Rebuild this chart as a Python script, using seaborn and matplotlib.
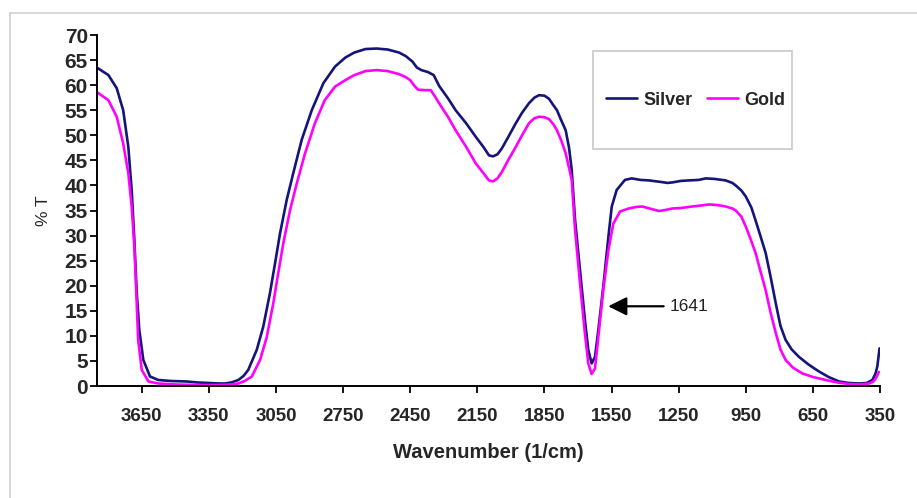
import matplotlib
matplotlib.use("Agg")
import matplotlib.pyplot as plt
from matplotlib import font_manager
from matplotlib.patches import Rectangle
import seaborn as sns
import pandas as pd

# ---- data ----
silver_wn = [3847, 3799, 3762, 3733, 3710, 3695, 3683, 3673, 3661, 3643, 3613, 3576, 3520, 3450,
             3400, 3350, 3300, 3278, 3250, 3218, 3195, 3174, 3136, 3107, 3077, 3054, 3032, 3002,
             2973, 2935, 2890, 2838, 2786, 2740, 2700, 2650, 2600, 2550, 2500, 2470, 2440, 2420,
             2400, 2370, 2345, 2320, 2280, 2247, 2200, 2157, 2120, 2098, 2080, 2060, 2040, 2010,
             1978, 1950, 1919, 1895, 1874, 1850, 1830, 1810, 1794, 1775, 1755, 1740, 1728, 1713,
             1691, 1669, 1654, 1639, 1624, 1609, 1587, 1564, 1549, 1527, 1490, 1460, 1420, 1383,
             1330, 1300, 1278, 1240, 1204, 1160, 1129, 1090, 1040, 1010, 995, 970, 950, 925, 906,
             885, 861, 840, 816, 795, 772, 745, 712, 670, 623, 580, 533, 490, 444, 410, 384, 370,
             362, 352]
silver_t = [63.4, 62.0, 59.4, 55.0, 47.7, 39.1, 29.1, 19.1, 11.2, 5.2, 1.9, 1.2, 1.0, 0.9,
            0.7, 0.6, 0.5, 0.5, 0.7, 1.2, 2.0, 3.2, 7.2, 11.8, 18.5, 24.5, 30.4, 37.1,
            42.4, 49.1, 55.0, 60.4, 63.7, 65.5, 66.5, 67.2, 67.3, 67.1, 66.5, 65.8, 64.7, 63.5,
            63.0, 62.6, 62.0, 59.8, 57.3, 55.0, 52.4, 49.7, 47.5, 46.0, 45.8, 46.2, 47.4, 49.8,
            52.4, 54.5, 56.4, 57.5, 58.0, 57.9, 57.3, 56.0, 55.0, 53.0, 51.0, 47.5, 43.1, 33.1,
            23.1, 13.2, 7.2, 4.5, 5.8, 11.2, 19.8, 29.8, 35.8, 39.1, 41.1, 41.4, 41.1, 41.0,
            40.7, 40.5, 40.6, 40.9, 41.0, 41.1, 41.4, 41.3, 41.0, 40.5, 40.0, 39.0, 37.8, 35.6, 33.0,
            30.0, 26.5, 22.0, 16.5, 12.0, 9.2, 7.3, 5.8, 4.3, 2.9, 1.8, 0.9, 0.6, 0.5, 0.6, 1.2, 2.5,
            3.9, 7.5]

gold_wn = [3847, 3799, 3762, 3733, 3710, 3695, 3683, 3673, 3666, 3650, 3620, 3576, 3500, 3400,
           3300, 3250, 3218, 3190, 3158, 3121, 3091, 3062, 3040, 3017, 2987, 2957, 2920, 2876,
           2832, 2786, 2740, 2700, 2650, 2600, 2550, 2500, 2470, 2450, 2430, 2415, 2380, 2358,
           2340, 2321, 2280, 2247, 2200, 2157, 2120, 2098, 2080, 2060, 2040, 2010, 1978, 1950,
           1919, 1895, 1874, 1850, 1829, 1810, 1794, 1775, 1755, 1740, 1728, 1713, 1691, 1669,
           1654, 1639, 1624, 1609, 1587, 1564, 1542, 1512, 1474, 1440, 1413, 1380, 1338, 1310,
           1278, 1240, 1189, 1150, 1114, 1080, 1040, 1010, 995, 970, 950, 930, 906, 885, 861,
           840, 816, 795, 772, 740, 697, 650, 593, 540, 489, 440, 399, 380, 369, 355]
gold_t = [58.5, 57.0, 53.7, 48.4, 42.4, 35.8, 27.8, 17.2, 9.2, 3.2, 0.9, 0.5, 0.3, 0.2,
          0.2, 0.3, 0.5, 1.0, 1.9, 5.2, 9.8, 16.5, 22.5, 28.5, 35.1, 40.4, 46.4, 52.4,
          57.0, 59.7, 61.0, 62.0, 62.8, 63.0, 62.8, 62.2, 61.6, 61.0, 59.8, 59.1, 59.0, 59.0,
          57.8, 56.4, 53.6, 51.0, 47.7, 44.4, 42.3, 41.0, 40.8, 41.4, 42.7, 45.2, 47.7, 50.0,
          52.4, 53.4, 53.7, 53.6, 53.2, 52.2, 51.0, 49.0, 46.4, 43.5, 41.1, 31.1, 20.5, 10.5,
          4.5, 2.4, 3.5, 9.8, 19.1, 27.1, 32.4, 34.8, 35.4, 35.7, 35.8, 35.4, 34.9, 35.1,
          35.4, 35.5, 35.8, 36.0, 36.2, 36.1, 35.8, 35.4, 35.0, 33.8, 31.8, 29.5, 26.5, 23.0, 19.1,
          14.8, 10.6, 7.3, 5.2, 3.7, 2.5, 1.8, 1.2, 0.7, 0.4, 0.3, 0.5, 0.9, 1.5, 2.8]

x_ticks = [3650, 3350, 3050, 2750, 2450, 2150, 1850, 1550, 1250, 950, 650, 350]
y_ticks = list(range(0, 75, 5))
series_names = ["Silver", "Gold"]
series_colors = ["#14147a", "#ff00ff"]
peak_label = "1641"

# ---- style ----
sns.set_style("white")
avail = {f.name for f in font_manager.fontManager.ttflist}
narrow = "Liberation Sans Narrow" if "Liberation Sans Narrow" in avail else "Liberation Sans"
plt.rcParams["font.family"] = ["Liberation Sans", "DejaVu Sans"]

W, H = 917, 498
fig = plt.figure(figsize=(W / 100, H / 100), dpi=100)
fig.patch.set_facecolor("white")

def fx(px):
    return px / W

def fy(py):
    return 1 - py / H

# outer chart border (light grey)
fig.patches.append(Rectangle((fx(9.5), fy(H + 20)), fx(W + 20), (H + 20 - 13) / H,
                             transform=fig.transFigure, fill=False,
                             edgecolor="#cfcfcf", linewidth=1.2))

ax = fig.add_axes([fx(97), fy(386), fx(880) - fx(97), fy(35) - fy(386)])

df_s = pd.DataFrame({"wn": silver_wn, "T": silver_t})
df_g = pd.DataFrame({"wn": gold_wn, "T": gold_t})
sns.lineplot(data=df_s, x="wn", y="T", ax=ax, color=series_colors[0], linewidth=1.9,
             sort=False, estimator=None, label=series_names[0])
sns.lineplot(data=df_g, x="wn", y="T", ax=ax, color=series_colors[1], linewidth=1.9,
             sort=False, estimator=None, label=series_names[1])
for ln in ax.get_lines():
    ln.set_solid_joinstyle("round")
    ln.set_solid_capstyle("round")

ax.set_xlim(3850, 350)
ax.set_ylim(0, 70)
ax.set_xticks(x_ticks)
ax.set_xticklabels([str(v) for v in x_ticks])
ax.set_yticks(y_ticks)
ax.set_yticklabels([str(v) for v in y_ticks])

for s in ["top", "right"]:
    ax.spines[s].set_visible(False)
for s in ["left", "bottom"]:
    ax.spines[s].set_color("black")
    ax.spines[s].set_linewidth(1.4)

ax.tick_params(axis="x", direction="out", length=5, width=1.3, color="black", pad=11,
               bottom=True)
ax.tick_params(axis="y", direction="out", length=5, width=1.3, color="black", pad=1.5,
               left=True)
for lab in ax.get_xticklabels():
    lab.set_fontfamily([narrow, "Liberation Sans", "DejaVu Sans"])
    lab.set_fontweight("bold")
    lab.set_fontsize(16.5 if narrow != "Liberation Sans" else 13.5)
for lab in ax.get_yticklabels():
    lab.set_fontfamily(["Liberation Sans", "DejaVu Sans"])
    lab.set_fontweight("bold")
    lab.set_fontsize(15)

ax.set_xlabel("Wavenumber (1/cm)", fontsize=16 if narrow != "Liberation Sans" else 14.5,
              fontweight="bold", family=[narrow, "Liberation Sans", "DejaVu Sans"], labelpad=13)
ax.set_ylabel("% T", fontsize=12.5, labelpad=10)

# legend with a manual frame
ax.get_legend().remove()
fig.patches.append(Rectangle((fx(593), fy(149)), fx(792) - fx(593), fy(51) - fy(149),
                             transform=fig.transFigure, fill=False,
                             edgecolor="#c8c8c8", linewidth=1.2))
handles, labels = ax.get_legend_handles_labels()
leg = fig.legend(handles, labels, loc="center", bbox_to_anchor=(fx(695.5), fy(100)),
                 ncol=2, frameon=False, borderpad=0, handlelength=1.75,
                 handletextpad=0.33, columnspacing=0.8,
                 prop={"family": ["Liberation Sans", "DejaVu Sans"], "weight": "bold", "size": 13})

# annotation arrow
ax.annotate(peak_label, xy=(1565, 15.9), xytext=(1290, 15.9), fontsize=12.5,
            va="center", ha="left", color="#222222",
            arrowprops=dict(arrowstyle="-|>,head_length=0.9,head_width=0.45",
                            color="black", lw=1.6, shrinkA=2, shrinkB=0))

fig.savefig("out.png", dpi=100, facecolor="white")
